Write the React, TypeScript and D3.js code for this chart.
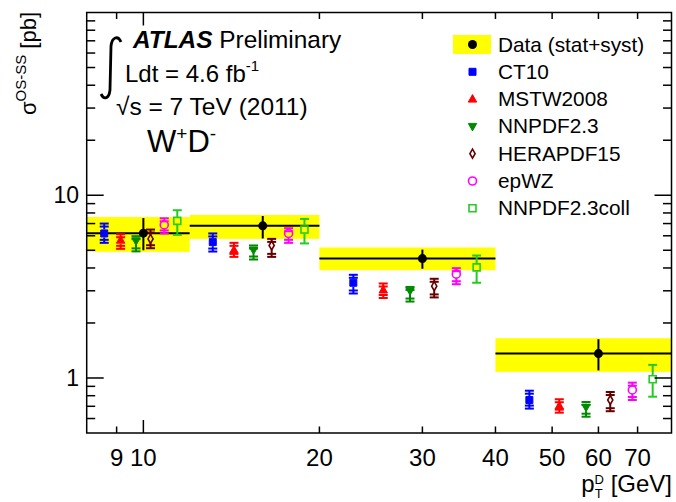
import React, { useEffect, useRef } from 'react';
import * as d3 from 'd3';

// pT bins [GeV]
const binLo = [8, 12, 20, 40];
const binHi = [12, 20, 40, 80];
const dataPt = [10, 16, 30, 60];
const dataVal = [6.2, 6.8, 4.5, 1.36];
const statLo = [5.0, 5.8, 3.96, 1.1];
const statHi = [7.5, 7.7, 5.04, 1.63];
const totLo = [4.9, 5.77, 3.89, 1.08];
const totHi = [7.6, 7.8, 5.18, 1.65];

// predictions: central, low, high
const ct10 = [6.18, 5.54, 3.32, 0.758];
const ct10Lo = [5.49, 4.92, 2.9, 0.68];
const ct10Hi = [7.0, 6.18, 3.67, 0.852];
const mstw = [5.68, 5.01, 3.03, 0.703];
const mstwLo = [5.09, 4.6, 2.74, 0.646];
const mstwHi = [6.12, 5.49, 3.29, 0.765];
const nnpdf = [5.63, 5.01, 3.0, 0.692];
const nnpdfLo = [4.93, 4.45, 2.62, 0.614];
const nnpdfHi = [5.97, 5.31, 3.15, 0.739];
const hera = [5.77, 5.31, 3.18, 0.758];
const heraLo = [5.13, 4.6, 2.76, 0.658];
const heraHi = [6.49, 5.77, 3.49, 0.838];
const epwz = [6.88, 6.18, 3.7, 0.86];
const epwzLo = [6.18, 5.49, 3.26, 0.758];
const epwzHi = [7.48, 6.6, 3.99, 0.943];
const coll = [7.24, 6.49, 4.03, 0.984];
const collLo = [6.07, 5.45, 3.32, 0.79];
const collHi = [8.28, 7.42, 4.68, 1.18];

const xTicks = [9, 10, 20, 30, 40, 50, 60, 70];
const xMajor = [10];
const yTicks = [0.6, 0.7, 0.8, 0.9, 1, 2, 3, 4, 5, 6, 7, 8, 9, 10, 20, 30, 40, 50, 60, 70, 80, 90];
const yMajor = [1, 10];

const models = [
  { name: 'CT10', val: ct10, lo: ct10Lo, hi: ct10Hi, color: '#0000ff', shape: 'square', open: false, inner: true },
  { name: 'MSTW2008', val: mstw, lo: mstwLo, hi: mstwHi, color: '#ff0000', shape: 'up', open: false, inner: true },
  { name: 'NNPDF2.3', val: nnpdf, lo: nnpdfLo, hi: nnpdfHi, color: '#008a00', shape: 'down', open: false, inner: true },
  { name: 'HERAPDF15', val: hera, lo: heraLo, hi: heraHi, color: '#660000', shape: 'diamond', open: true, inner: true },
  { name: 'epWZ', val: epwz, lo: epwzLo, hi: epwzHi, color: '#ff00ff', shape: 'circle', open: true, inner: true },
  { name: 'NNPDF2.3coll', val: coll, lo: collLo, hi: collHi, color: '#22cc22', shape: 'square', open: true, inner: false },
];

const FONT = "'Liberation Sans', Arial, Helvetica, sans-serif";

function markerPath(shape: string) {
  switch (shape) {
    case 'square': return 'M-3.5,-3.5H3.5V3.5H-3.5Z';
    case 'up': return 'M0,-4.5L4.2,3L-4.2,3Z';
    case 'down': return 'M0,4.5L4.2,-3L-4.2,-3Z';
    case 'diamond': return 'M0,-4.5L2.6,0L0,4.5L-2.6,0Z';
    default: return d3.symbol(d3.symbolCircle, 50)()!;
  }
}

const App = () => {
  const svgRef = useRef<SVGSVGElement>(null);

  useEffect(() => {
    const svg = d3.select(svgRef.current);
    svg.selectAll('*').remove();

    const x = d3.scaleLog().domain([8, 80]).range([86.7, 671.5]);
    const y = d3.scaleLog().domain([0.5, 100]).range([433, 12.5]);
    const bins = d3.range(binLo.length);

    // yellow bands (stat+syst)
    svg.append('g').selectAll('rect').data(bins).join('rect')
      .attr('x', i => x(binLo[i]))
      .attr('width', i => x(binHi[i]) - x(binLo[i]))
      .attr('y', i => y(totHi[i]))
      .attr('height', i => y(totLo[i]) - y(totHi[i]))
      .attr('fill', '#ffff00');

    // data lines
    const gd = svg.append('g').attr('stroke', '#000').attr('stroke-width', 2);
    gd.selectAll('.h').data(bins).join('line')
      .attr('x1', i => x(binLo[i])).attr('x2', i => x(binHi[i]))
      .attr('y1', i => y(dataVal[i])).attr('y2', i => y(dataVal[i]));
    gd.selectAll('.v').data(bins).join('line')
      .attr('x1', i => x(dataPt[i])).attr('x2', i => x(dataPt[i]))
      .attr('y1', i => y(statLo[i])).attr('y2', i => y(statHi[i]));

    // predictions
    models.forEach((m, k) => {
      const g = svg.append('g');
      bins.forEach(i => {
        const px = x(binLo[i] + (k + 1) * (binHi[i] - binLo[i]) / 7);
        const py = y(m.val[i]);
        const yh = y(m.hi[i]);
        const yl = y(m.lo[i]);
        const s = 4;
        const ln = (x1: number, y1: number, x2: number, y2: number) =>
          g.append('line').attr('x1', x1).attr('y1', y1).attr('x2', x2).attr('y2', y2)
            .attr('stroke', m.color).attr('stroke-width', 2);
        if (yh < py - s) ln(px, yh, px, py - s);
        if (yl > py + s) ln(px, py + s, px, yl);
        ln(px - 4.5, yh, px + 4.5, yh);
        ln(px - 4.5, yl, px + 4.5, yl);
        if (m.inner) {
          ln(px - 4.5, yh + 3, px + 4.5, yh + 3);
          ln(px - 4.5, yl - 3, px + 4.5, yl - 3);
        }
        g.append('path').attr('d', markerPath(m.shape))
          .attr('transform', `translate(${px},${py})`)
          .attr('fill', m.open ? 'none' : m.color)
          .attr('stroke', m.color).attr('stroke-width', m.open ? 1.6 : 1);
      });
    });

    // data points
    svg.append('g').selectAll('circle').data(bins).join('circle')
      .attr('cx', i => x(dataPt[i])).attr('cy', i => y(dataVal[i]))
      .attr('r', 4.5).attr('fill', '#000');

    // frame + ticks
    const [x0, x1] = x.range();
    const [y0, y1] = y.range();
    const ax = svg.append('g').attr('stroke', '#000').attr('stroke-width', 1.5);
    ax.append('rect').attr('x', x0).attr('y', y1).attr('width', x1 - x0).attr('height', y0 - y1)
      .attr('fill', 'none');
    xTicks.forEach(t => {
      const len = xMajor.includes(t) ? 13 : 6.5;
      ax.append('line').attr('x1', x(t)).attr('x2', x(t)).attr('y1', y0).attr('y2', y0 - len);
      ax.append('line').attr('x1', x(t)).attr('x2', x(t)).attr('y1', y1).attr('y2', y1 + len);
    });
    yTicks.forEach(t => {
      const len = yMajor.includes(t) ? 17 : 8.5;
      ax.append('line').attr('y1', y(t)).attr('y2', y(t)).attr('x1', x0).attr('x2', x0 + len);
      ax.append('line').attr('y1', y(t)).attr('y2', y(t)).attr('x1', x1).attr('x2', x1 - len);
    });

    const txt = svg.append('g').attr('font-family', FONT).attr('fill', '#000');
    xTicks.forEach(t => {
      txt.append('text').attr('x', x(t)).attr('y', 466).attr('text-anchor', 'middle')
        .attr('font-size', 24).text(t);
    });
    yMajor.forEach(t => {
      txt.append('text').attr('x', 79).attr('y', y(t) + 8).attr('text-anchor', 'end')
        .attr('font-size', 23).text(t);
    });

    // axis titles
    const xt = txt.append('text').attr('x', 672).attr('y', 492).attr('text-anchor', 'end')
      .attr('font-size', 24);
    xt.append('tspan').text('p');
    xt.append('tspan').attr('font-size', 13).attr('dy', 6).text('T');
    xt.append('tspan').attr('font-size', 13).attr('dx', -8).attr('dy', -14).text('D');
    xt.append('tspan').attr('dy', 8).text(' [GeV]');

    const yt = txt.append('text').attr('transform', 'translate(36,12) rotate(-90)')
      .attr('text-anchor', 'end').attr('font-size', 22);
    yt.append('tspan').text('σ');
    yt.append('tspan').attr('font-size', 15).attr('dy', -10).text('OS-SS');
    yt.append('tspan').attr('dy', 10).text(' [pb]');

    // labels
    svg.append('path')
      .attr('d', 'M121,42 C118,35 112,37 111,46 L110,90 C109,99 104,100 101,94')
      .attr('fill', 'none').attr('stroke', '#000').attr('stroke-width', 2.8);
    const t1 = txt.append('text').attr('x', 133).attr('y', 48).attr('font-size', 24.4);
    t1.append('tspan').attr('font-weight', 'bold').attr('font-style', 'italic').text('ATLAS');
    t1.append('tspan').text(' Preliminary');
    const t2 = txt.append('text').attr('x', 125).attr('y', 82).attr('font-size', 24);
    t2.append('tspan').text('Ldt = 4.6 fb');
    t2.append('tspan').attr('font-size', 15).attr('dy', -11).text('-1');
    txt.append('text').attr('x', 116).attr('y', 115).attr('font-size', 24.5).text('√s = 7 TeV (2011)');
    const t4 = txt.append('text').attr('x', 147).attr('y', 152).attr('font-size', 31);
    t4.append('tspan').text('W');
    t4.append('tspan').attr('font-size', 19).attr('dy', -12).text('+');
    t4.append('tspan').attr('dy', 12).text('D');
    t4.append('tspan').attr('font-size', 19).attr('dy', -12).text('-');

    // legend
    const lg = svg.append('g');
    const rowY = (r: number) => 51.5 + r * 27.3;
    lg.append('rect').attr('x', 453).attr('y', 35).attr('width', 38).attr('height', 19).attr('fill', '#ffff00');
    lg.append('circle').attr('cx', 472.5).attr('cy', 44.5).attr('r', 4.5).attr('fill', '#000');
    lg.append('text').attr('x', 498).attr('y', rowY(0)).attr('font-family', FONT).attr('font-size', 20.8)
      .text('Data (stat+syst)');
    models.forEach((m, k) => {
      lg.append('path').attr('d', markerPath(m.shape))
        .attr('transform', `translate(472.5,${rowY(k + 1) - 7})`)
        .attr('fill', m.open ? 'none' : m.color)
        .attr('stroke', m.color).attr('stroke-width', m.open ? 1.6 : 1);
      lg.append('text').attr('x', 498).attr('y', rowY(k + 1)).attr('font-family', FONT)
        .attr('font-size', 20.8).text(m.name);
    });
  }, []);

  return (
    <div style={{ position: 'absolute', left: 0, top: 0 }}>
      <svg ref={svgRef} width={676} height={502} style={{ display: 'block', background: '#fff' }} />
    </div>
  );
};

export default App;
